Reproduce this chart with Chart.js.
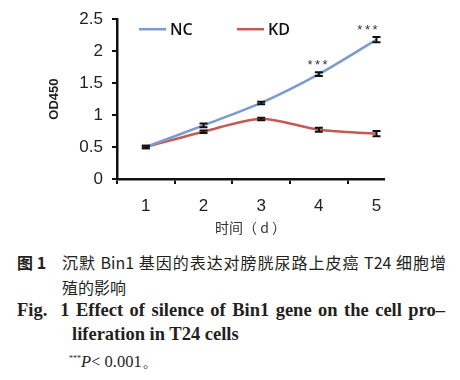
<!DOCTYPE html>
<html>
<head>
<meta charset="utf-8">
<script src="https://cdn.jsdelivr.net/npm/chart.js@4.4.1/dist/chart.umd.min.js"></script>
<style>
  html, body { margin: 0; padding: 0; background: #fff; }
  #wrap { position: relative; width: 460px; height: 380px; overflow: hidden; }
  #chart { position: absolute; left: 0; top: 0; }
  .cap { position: absolute; color: #231f20; white-space: nowrap; }
  .zh { font-family: "Noto Sans CJK SC", sans-serif; font-size: 16px; }
  .en { font-family: "Liberation Serif", "DejaVu Serif", serif; font-weight: bold; font-size: 18.5px; }
  .just { text-align: justify; text-align-last: justify; }
</style>
</head>
<body>
<div id="wrap">
  <canvas id="chart" width="460" height="240"></canvas>
  <div class="cap zh" style="left:17px; top:250px; font-weight:bold;">图 1</div>
  <div class="cap zh just" style="left:62px; top:250px; width:384px;">沉默 Bin1 基因的表达对膀胱尿路上皮癌 T24 细胞增</div>
  <div class="cap zh" style="left:62px; top:275px;">殖的影响</div>
  <div class="cap en just" style="left:17px; top:300px; width:428px;">Fig.&nbsp; 1 Effect of silence of Bin1 gene on the cell pro–</div>
  <div class="cap en" style="left:72px; top:324px;">liferation in T24 cells</div>
  <div class="cap" style="left:69px; top:351px; font-family:'Liberation Serif', serif; font-size:16.5px;"><sup style="font-size:8px;">***</sup><i>P</i>&lt; 0.001。</div>
</div>
<script>
// data
const days = [1, 2, 3, 4, 5];
const ncValues = [0.50, 0.84, 1.19, 1.64, 2.18];
const ncErrors = [0.02, 0.03, 0.02, 0.03, 0.04];
const kdValues = [0.50, 0.74, 0.94, 0.77, 0.71];
const kdErrors = [0.02, 0.02, 0.02, 0.03, 0.04];
const ncSignif = ["", "", "", "***", "***"];
const yTicks = [0, 0.5, 1, 1.5, 2, 2.5];

const NC_COLOR = "#7c9bcf";
const KD_COLOR = "#c45a55";

function toPoints(vals) {
    return days.map((d, i) => ({ x: d, y: vals[i] }));
}

// error bars, significance marks, legend
const extras = {
    id: "extras",
    afterDatasetsDraw(chart) {
        const ctx = chart.ctx;
        const xs = chart.scales.x, ys = chart.scales.y;
        const area = chart.chartArea;
        const errs = [ncErrors, kdErrors];
        ctx.save();
        ctx.strokeStyle = "#111";
        ctx.lineWidth = 2;
        chart.data.datasets.forEach((ds, di) => {
            ds.data.forEach((p, i) => {
                const x = xs.getPixelForValue(p.x);
                const y1 = ys.getPixelForValue(p.y + errs[di][i]);
                const y2 = ys.getPixelForValue(p.y - errs[di][i]);
                ctx.beginPath();
                ctx.moveTo(x, y1); ctx.lineTo(x, y2);
                ctx.moveTo(x - 4, y1); ctx.lineTo(x + 4, y1);
                ctx.moveTo(x - 4, y2); ctx.lineTo(x + 4, y2);
                ctx.stroke();
            });
        });

        ctx.fillStyle = "#333";
        ctx.font = "13px 'Liberation Sans'";
        ctx.textBaseline = "middle";
        ctx.textAlign = "center";
        if ("letterSpacing" in ctx) ctx.letterSpacing = "2.5px";
        ncSignif.forEach((s, i) => {
            if (!s) return;
            const w = ctx.measureText(s).width;
            let x = xs.getPixelForValue(days[i]);
            x = Math.min(x, area.right - 4 - w / 2);
            const y = ys.getPixelForValue(ncValues[i] + ncErrors[i]) - 7;
            ctx.fillText(s, x, y);
        });
        if ("letterSpacing" in ctx) ctx.letterSpacing = "0px";

        ctx.textAlign = "left";
        ctx.font = "600 16px 'Open Sans'";
        ctx.fillStyle = "#111";
        chart.data.datasets.forEach((ds, di) => {
            const x0 = area.left + 22 + di * 98;
            const y0 = area.top + 10;
            ctx.strokeStyle = ds.borderColor;
            ctx.lineWidth = 2.5;
            ctx.beginPath();
            ctx.moveTo(x0, y0); ctx.lineTo(x0 + 27, y0);
            ctx.stroke();
            ctx.fillText(ds.label, x0 + 31, y0 + 1);
        });
        ctx.restore();
    }
};

new Chart(document.getElementById("chart"), {
    type: "line",
    data: {
        datasets: [
            { label: "NC", data: toPoints(ncValues), borderColor: NC_COLOR, backgroundColor: NC_COLOR,
              borderWidth: 2.5, pointRadius: 0, tension: 0.3 },
            { label: "KD", data: toPoints(kdValues), borderColor: KD_COLOR, backgroundColor: KD_COLOR,
              borderWidth: 2.5, pointRadius: 0, tension: 0.3 }
        ]
    },
    options: {
        responsive: false,
        animation: false,
        devicePixelRatio: 1,
        layout: { padding: { left: 0, right: 76, top: 18, bottom: 0 } },
        plugins: { legend: { display: false }, tooltip: { enabled: false } },
        scales: {
            x: {
                type: "linear",
                min: 0.5,
                max: 5.13,
                afterBuildTicks: s => { s.ticks = days.map(v => ({ value: v })); },
                afterFit: s => { s.height = 61; },
                grid: { offset: true, drawOnChartArea: false, drawTicks: true, tickLength: 5, color: "#111", lineWidth: 2 },
                border: { color: "#111", width: 2.5 },
                ticks: { color: "#222", font: { family: "Liberation Sans", size: 17 }, padding: 12, autoSkip: false,
                         callback: v => String(v) },
                title: { display: true, text: "时间（ d ）", color: "#333",
                         font: { family: "Noto Sans CJK SC", size: 14 }, padding: { top: 0, bottom: 4 } }
            },
            y: {
                min: 0,
                max: 2.5,
                afterBuildTicks: s => { s.ticks = yTicks.map(v => ({ value: v })); },
                afterFit: s => { s.width = 117; },
                grid: { drawOnChartArea: false, drawTicks: true, tickLength: 5, color: "#111", lineWidth: 2 },
                border: { color: "#111", width: 2.5 },
                ticks: { color: "#222", font: { family: "Liberation Sans", size: 17 }, padding: 9,
                         callback: v => String(v) },
                title: { display: true, text: "OD450", color: "#222",
                         font: { family: "Liberation Sans", size: 13, weight: "bold" }, padding: { top: 47, bottom: 0 } }
            }
        }
    },
    plugins: [extras]
});
</script>
</body>
</html>
